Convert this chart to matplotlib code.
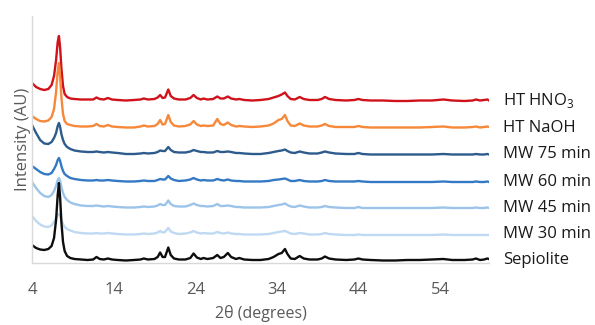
import matplotlib
matplotlib.use("Agg")
import matplotlib.pyplot as plt
import numpy as np

plt.rcParams['font.family'] = ['Open Sans', 'DejaVu Sans']
plt.rcParams['mathtext.fontset'] = 'custom'
plt.rcParams['mathtext.rm'] = 'Open Sans'

# 2-theta sampling positions (degrees)
two_theta = [4.0, 4.5, 5.0, 5.5, 6.0, 6.4, 6.7, 6.95, 7.15, 7.3,
             7.45, 7.6, 7.8, 8.0, 8.3, 8.7, 9.2, 10.0, 10.8, 11.5,
             11.9, 12.3, 12.8, 13.3, 13.8, 14.5, 15.5, 16.5, 17.3, 17.7,
             18.2, 19.0, 19.4, 19.7, 20.0, 20.3, 20.7, 21.0, 21.4, 22.0,
             22.8, 23.4, 23.8, 24.2, 24.7, 25.0, 25.5, 26.2, 26.7, 27.1,
             27.5, 28.0, 28.4, 29.0, 29.4, 30.0, 31.0, 32.0, 33.0, 33.6,
             34.2, 34.6, 35.0, 35.3, 35.7, 36.2, 36.8, 37.3, 38.0, 39.0,
             39.5, 39.9, 40.4, 41.2, 42.5, 43.5, 44.0, 44.5, 45.5, 47.0,
             48.5, 50.0, 51.5, 53.0, 54.4, 55.5, 57.0, 58.0, 58.4, 58.9,
             59.4, 59.8, 60.0]

# Intensity profiles (AU, relative to each pattern's own baseline)
sepiolite = [15, 12, 10.5, 10, 11, 14, 22, 40, 65, 77,
             62, 38, 18, 9, 4, 2, 1, 0.5, 0, 0.5,
             3, 1, 0.5, 1.5, 0.5, 0, -0.5, 0, 0.5, 1.5,
             0.5, 1, 3, 7.5, 3, 3, 12.5, 5, 1.5, 0.5,
             0.5, 2, 6.5, 2.5, 1, 2, 1, 2, 5, 2,
             3, 7, 3, 1, 2, 0.5, 0, 0, 1, 3,
             6, 7, 11, 6, 1.5, 1, 4, 1.5, 0.5, 0.5,
             1.5, 3.5, 1.5, 0.5, 0, 0.5, 1.5, 0.5, 0, -0.5,
             -0.5, 0, 0, 0.5, 1, 0, 0, 0.5, 1.5, 0,
             0.5, 1.5, 1]
mw30 = [18, 13, 9.5, 7.5, 7, 8.5, 12, 16, 19, 20,
        18, 14, 10, 7, 5, 3.5, 2, 1, 0.5, 0.5,
        1, 0.5, 0.5, 1, 0.5, 0, -0.5, -0.5, 0, 0.5,
        0, 0.5, 1.5, 3, 1.5, 2, 6, 2.5, 1, 0,
        0.5, 1.5, 3, 1.5, 0.5, 1, 0.5, 0.5, 2, 1,
        0.5, 1.5, 0.5, 0, 0, -0.5, -0.5, -0.5, 0, 1,
        2, 2.5, 3, 2, 0.5, 0, 1, 0.5, -0.5, -0.5,
        0, 1, 0, -0.5, -1, -1, -0.5, -1, -1, -1,
        -1, -1, -1, -1, -0.5, -1, -1, -1, -1, -1,
        -1, -1, -1]
mw45 = [25, 19, 14, 11, 10, 12, 16, 21, 27, 29,
        26, 20, 14, 10, 7, 4.5, 3, 1.5, 1, 1,
        1.5, 1, 0.5, 1, 0.5, 0, -0.5, -0.5, 0, 0.5,
        0, 0.5, 1.5, 3, 2, 2, 6.5, 3, 1, 0.5,
        0.5, 2, 3.5, 2, 1, 1, 0.5, 1, 3, 1,
        1, 1.5, 1, 0, 0, -0.5, -0.5, -0.5, 0, 1,
        2, 2.5, 3.5, 2, 0.5, 0, 1.5, 0.5, -0.5, -0.5,
        0, 1, 0, -0.5, -1, -1, 0, -1, -1, -1,
        -1, -1, -1, -1, -0.5, -1, -1, -1, -0.5, -1,
        -1, -0.5, -1]
mw60 = [15, 12, 9, 7, 6.5, 8, 12, 16, 21, 23,
        20, 15, 10, 7, 5, 3, 2, 1, 0.5, 0.5,
        1, 0.5, 0.5, 1, 0.5, 0, -0.5, -0.5, 0, 0.5,
        0, 0, 1, 2, 1.5, 1.5, 5, 2.5, 1, 0,
        0.5, 1.5, 3, 1.5, 0.5, 1, 0.5, 0.5, 2, 1,
        0.5, 1.5, 0.5, 0, 0, -0.5, -0.5, -0.5, 0, 1,
        1.5, 2, 2.5, 1.5, 0, 0, 1, 0, -0.5, -0.5,
        0, 1, 0, -0.5, -0.5, -0.5, 0, -0.5, -1, -1,
        -1, -1, -1, -1, -0.5, -1, -1, -1, -0.5, -1,
        -1, -0.5, -1]
mw75 = [28, 20, 13, 9.5, 9, 11, 15, 20, 27, 30,
        26, 19, 13, 9, 6, 4, 2.5, 1.5, 1, 1,
        1.5, 1, 0.5, 1, 0.5, 0, -1, -1, -0.5, 0,
        -0.5, 0, 1, 2.5, 2, 2, 6, 3, 1, 0.5,
        0.5, 1.5, 3, 2, 1, 1, 0.5, 0.5, 2, 1,
        1, 1.5, 1, 0, 0, -0.5, -1, -1, 0, 1,
        2, 2.5, 3.5, 2, 0.5, 0, 1.5, 0.5, -0.5, -0.5,
        0.5, 1.5, 0.5, -0.5, -1, -1, 0, -1, -1.5, -1.5,
        -1.5, -1.5, -1.5, -1.5, -1, -1.5, -1.5, -1.5, -1, -1.5,
        -1.5, -1, -1.5]
ht_naoh = [11, 8, 6, 5.5, 6.5, 10, 18, 35, 56, 64,
           50, 30, 13, 6, 3, 2, 1, 0.5, 0.5, 1,
           3, 1, 0.5, 2, 0.5, 0, -0.5, -0.5, 0.5, 1.5,
           0.5, 1, 3, 7, 2.5, 3, 12, 5, 1.5, 0.5,
           1, 2.5, 6, 2.5, 1, 1.5, 1, 1.5, 8, 3,
           2, 4.5, 2, 0.5, 1, 0.5, 0, 0.5, 1.5, 3.5,
           7, 8, 12, 6, 1.5, 1, 3.5, 1.5, 0.5, 0.5,
           1.5, 3, 1, 0, 0, 0, 1, 0, -0.5, -0.5,
           -0.5, -0.5, -0.5, 0, 0.5, -0.5, -0.5, 0, 0.5, -0.5,
           0, 0.5, 0]
ht_hno3 = [17, 13, 11, 10, 11, 15, 24, 40, 58, 64,
           52, 32, 14, 6, 3, 1.5, 1, 0.5, 0.5, 0.5,
           2.5, 1, 0.5, 2, 0.5, 0, -0.5, 0, 0.5, 1.5,
           0.5, 1, 2.5, 5, 2, 2.5, 10.5, 4, 1.5, 0.5,
           0.5, 2, 5, 2, 0.5, 1.5, 0.5, 1, 3.5, 1.5,
           1.5, 3.5, 1.5, 0.5, 1, 0, -0.5, 0, 1, 2.5,
           4, 5.5, 7.5, 4, 1, 0.5, 3, 1, 0, 0,
           1, 3, 1, 0, -0.5, 0, 1, 0, -0.5, -0.5,
           -1, -1, -0.5, -0.5, 0.5, -0.5, -1, -0.5, 0.5, -0.5,
           0, 0.5, -0.5]

series_names = ["HT HNO$_\\mathrm{3}$", "HT NaOH", "MW 75 min", "MW 60 min",
                "MW 45 min", "MW 30 min", "Sepiolite"]
series_values = [ht_hno3, ht_naoh, mw75, mw60, mw45, mw30, sepiolite]
stack_offsets = [163, 136, 110, 82, 56, 29, 3]
colors = ["#D0121B", "#F7883A", "#2D5B8C", "#3479C4", "#9CC3EA", "#BFD9F2", "#0D0D0D"]
x_ticks = [4, 14, 24, 34, 44, 54]

fig = plt.figure(figsize=(5.95, 3.25), dpi=100)
ax = fig.add_axes([32/595, 1 - 263/325, (489 - 32)/595, (263 - 16)/325])

x = np.array(two_theta)
for name, vals, off, col in zip(series_names, series_values, stack_offsets, colors):
    y = np.array(vals, dtype=float) + off
    ax.plot(x, y, color=col, lw=1.7, solid_joinstyle='round')
    ax.annotate(name, xy=(x[-1], off - 0.5), xytext=(10, 0), textcoords='offset points',
                va='center', ha='left', fontsize=12, color='#1a1a1a',
                annotation_clip=False)

ax.set_xlim(4, 60)
ax.set_ylim(0, 247)
ax.set_xticks(x_ticks)
ax.set_xticklabels([str(t) for t in x_ticks])
ax.set_yticks([])
ax.tick_params(axis='x', length=0, pad=14, labelsize=12, labelcolor='#595959')
for s in ['top', 'right']:
    ax.spines[s].set_visible(False)
for s in ['left', 'bottom']:
    ax.spines[s].set_color('#D9D9D9')
    ax.spines[s].set_linewidth(1.0)
ax.set_xlabel("2θ (degrees)", fontsize=11.5, color='#595959', labelpad=5)
ax.set_ylabel("Intensity (AU)", fontsize=12, color='#595959', labelpad=1)

fig.savefig("out.png", dpi=100)
